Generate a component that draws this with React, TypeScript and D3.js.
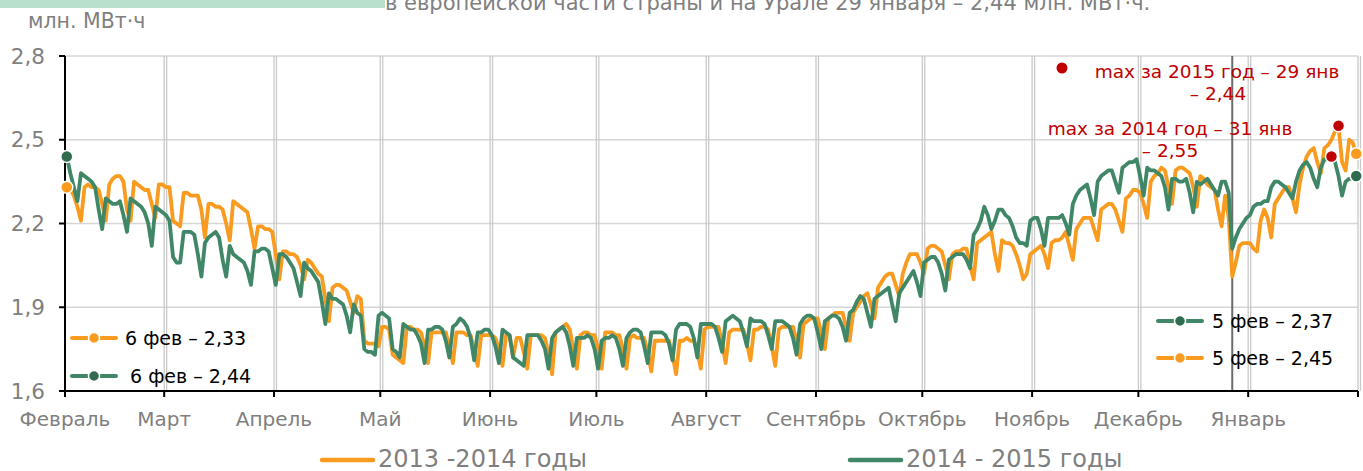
import { scaleLinear, line } from "d3";

// daily consumption, from 6 Feb to 5 Feb of the next year (365 days)
const SERIES_2013_2014 = [
  2.33, 2.32, 2.30, 2.26, 2.21,
  2.33, 2.34, 2.33, 2.33, 2.32, 2.27, 2.21,
  2.34, 2.36, 2.37, 2.37, 2.35, 2.25, 2.21,
  2.35, 2.34, 2.33, 2.32, 2.32, 2.27, 2.22,
  2.34, 2.34, 2.33, 2.33, 2.21, 2.20, 2.19,
  2.31, 2.31, 2.30, 2.30, 2.30, 2.25, 2.15,
  2.27, 2.27, 2.26, 2.26, 2.25, 2.20, 2.14,
  2.28, 2.27, 2.26, 2.25, 2.24, 2.18, 2.11,
  2.19, 2.19, 2.18, 2.18, 2.17, 2.09, 2.00,
  2.10, 2.10, 2.09, 2.09, 2.08, 2.05, 2.00,
  2.07, 2.06, 2.04, 2.02, 2.01, 1.93, 1.85,
  1.97, 1.98, 1.98, 1.97, 1.96, 1.92, 1.88,
  1.94, 1.93, 1.78, 1.77, 1.77, 1.77, 1.76,
  1.83, 1.83, 1.82, 1.73, 1.72, 1.71, 1.70,
  1.83, 1.83, 1.82, 1.82, 1.81, 1.76, 1.70,
  1.81, 1.81, 1.81, 1.81, 1.81, 1.76, 1.70,
  1.81, 1.81, 1.81, 1.80, 1.80, 1.75, 1.69,
  1.80, 1.80, 1.80, 1.80, 1.79, 1.75, 1.69,
  1.80, 1.80, 1.72, 1.79, 1.79, 1.74, 1.68,
  1.80, 1.80, 1.80, 1.80, 1.79, 1.73, 1.66,
  1.81, 1.82, 1.83, 1.84, 1.82, 1.75, 1.68,
  1.80, 1.81, 1.81, 1.80, 1.80, 1.75, 1.68,
  1.81, 1.81, 1.81, 1.80, 1.80, 1.75, 1.68,
  1.79, 1.80, 1.79, 1.79, 1.79, 1.74, 1.67,
  1.78, 1.78, 1.78, 1.78, 1.78, 1.73, 1.66,
  1.78, 1.78, 1.79, 1.78, 1.78, 1.74, 1.68,
  1.82, 1.83, 1.83, 1.83, 1.83, 1.77, 1.70,
  1.81, 1.82, 1.82, 1.82, 1.82, 1.77, 1.71,
  1.82, 1.82, 1.83, 1.83, 1.82, 1.76, 1.69,
  1.82, 1.83, 1.83, 1.83, 1.83, 1.78, 1.72,
  1.84, 1.85, 1.86, 1.86, 1.86, 1.81, 1.75,
  1.86, 1.87, 1.88, 1.88, 1.88, 1.83, 1.78,
  1.88, 1.90, 1.92, 1.94, 1.95, 1.91, 1.86,
  1.97, 1.99, 2.01, 2.02, 2.02, 1.98, 1.94,
  2.02, 2.06, 2.09, 2.09, 2.09, 2.06, 2.02,
  2.11, 2.12, 2.12, 2.11, 2.10, 2.05, 2.00,
  2.09, 2.10, 2.10, 2.11, 2.11, 2.05, 2.00,
  2.13, 2.14, 2.15, 2.16, 2.17, 2.09, 2.03,
  2.14, 2.13, 2.13, 2.12, 2.09, 2.05, 2.00,
  2.02, 2.09, 2.10, 2.11, 2.12, 2.09, 2.04,
  2.13, 2.14, 2.14, 2.15, 2.17, 2.12, 2.07,
  2.18, 2.20, 2.22, 2.22, 2.22, 2.18, 2.14,
  2.25, 2.26, 2.27, 2.27, 2.25, 2.21, 2.17,
  2.29, 2.30, 2.32, 2.32, 2.31, 2.27, 2.22,
  2.35, 2.37, 2.38, 2.40, 2.39, 2.33, 2.27,
  2.39, 2.40, 2.40, 2.39, 2.38, 2.33, 2.26,
  2.37, 2.36, 2.34, 2.33, 2.32, 2.25, 2.19,
  2.30, 2.22,
  2.01, 2.06, 2.12, 2.13, 2.13, 2.13, 2.11, 2.10, 2.21, 2.25, 2.22, 2.15,
  2.27, 2.29, 2.31, 2.33, 2.33, 2.29, 2.24,
  2.34, 2.40, 2.44, 2.46, 2.47, 2.42, 2.38,
  2.47, 2.48, 2.50, 2.53, 2.55, 2.42, 2.39,
  2.50, 2.49, 2.45,
];

const SERIES_2014_2015 = [
  2.44, 2.38, 2.33, 2.28,
  2.38, 2.37, 2.36, 2.35, 2.33, 2.25, 2.18,
  2.29, 2.28, 2.27, 2.27, 2.28, 2.23, 2.17,
  2.29, 2.28, 2.27, 2.26, 2.24, 2.20, 2.12,
  2.26, 2.25, 2.24, 2.23, 2.21, 2.08, 2.06,
  2.06, 2.17, 2.17, 2.17, 2.16, 2.09, 2.01,
  2.13, 2.15, 2.16, 2.17, 2.15, 2.07, 2.01,
  2.12, 2.09, 2.08, 2.07, 2.06, 2.03, 1.98,
  2.10, 2.10, 2.11, 2.11, 2.10, 2.04, 1.98,
  2.09, 2.09, 2.08, 2.06, 2.04, 1.99, 1.94,
  2.06, 2.04, 2.03, 2.01, 1.99, 1.92, 1.84,
  1.95, 1.93, 1.93, 1.92, 1.91, 1.87, 1.81,
  1.91, 1.88, 1.87, 1.75, 1.74, 1.74, 1.73,
  1.87, 1.88, 1.87, 1.86, 1.75, 1.74, 1.72,
  1.84, 1.83, 1.82, 1.82, 1.80, 1.77, 1.70,
  1.82, 1.82, 1.83, 1.83, 1.82, 1.78, 1.72,
  1.83, 1.84, 1.86, 1.85, 1.83, 1.79, 1.71,
  1.81, 1.81, 1.82, 1.82, 1.80, 1.76, 1.70,
  1.82, 1.81, 1.80, 1.72, 1.71, 1.70, 1.69,
  1.80, 1.80, 1.80, 1.80, 1.78, 1.75, 1.68,
  1.79, 1.81, 1.82, 1.83, 1.81, 1.76, 1.69,
  1.79, 1.79, 1.79, 1.80, 1.79, 1.75, 1.68,
  1.78, 1.79, 1.79, 1.80, 1.79, 1.75, 1.69,
  1.79, 1.81, 1.82, 1.82, 1.81, 1.76, 1.70,
  1.81, 1.81, 1.81, 1.81, 1.80, 1.77, 1.71,
  1.82, 1.84, 1.84, 1.84, 1.83, 1.79, 1.72,
  1.84, 1.84, 1.84, 1.84, 1.83, 1.79, 1.74,
  1.85, 1.86, 1.87, 1.86, 1.85, 1.81, 1.76,
  1.86, 1.85, 1.85, 1.85, 1.84, 1.80, 1.75,
  1.85, 1.85, 1.85, 1.84, 1.83, 1.79, 1.73,
  1.84, 1.86, 1.87, 1.87, 1.86, 1.81, 1.75,
  1.85, 1.86, 1.87, 1.87, 1.86, 1.83, 1.78,
  1.88, 1.89, 1.92, 1.94, 1.93, 1.88, 1.83,
  1.93, 1.94, 1.95, 1.96, 1.97, 1.91, 1.85,
  1.95, 1.97, 1.99, 2.01, 2.03, 1.99, 1.94,
  2.06, 2.07, 2.08, 2.08, 2.06, 2.02, 1.96,
  2.07, 2.08, 2.09, 2.09, 2.09, 2.07, 2.04,
  2.16, 2.18, 2.21, 2.26, 2.23, 2.18, 2.21,
  2.25, 2.25, 2.23, 2.22, 2.19, 2.15, 2.13,
  2.13, 2.12, 2.21, 2.22, 2.22, 2.18, 2.12,
  2.22, 2.22, 2.22, 2.22, 2.23, 2.20, 2.16,
  2.27, 2.30, 2.32, 2.33, 2.34, 2.29, 2.23,
  2.35, 2.37, 2.38, 2.39, 2.39, 2.35, 2.31,
  2.40, 2.41, 2.42, 2.42, 2.43, 2.37, 2.30,
  2.40, 2.39, 2.39, 2.38, 2.37, 2.33, 2.25,
  2.36, 2.36, 2.35, 2.35, 2.36, 2.31, 2.24,
  2.35, 2.34, 2.35, 2.36, 2.34, 2.32, 2.30,
  2.35, 2.35, 2.31,
  2.11, 2.15, 2.18, 2.20, 2.22, 2.23, 2.26, 2.27, 2.27, 2.28, 2.28,
  2.33, 2.35, 2.35, 2.34, 2.33, 2.31, 2.29,
  2.35, 2.39, 2.41, 2.42, 2.40, 2.36, 2.33,
  2.40, 2.43, 2.43, 2.44, 2.42, 2.37, 2.30,
  2.35, 2.36, 2.36, 2.37,
];

const MONTH_LABELS = [
  "Февраль", "Март", "Апрель", "Май", "Июнь", "Июль",
  "Август", "Сентябрь", "Октябрь", "Ноябрь", "Декабрь", "Январь", "",
];
const MONTH_START_DAYS = [0, 28, 59, 89, 120, 150, 181, 212, 242, 273, 303, 334, 365];
const Y_TICKS = [1.6, 1.9, 2.2, 2.5, 2.8];
const NEW_YEAR_DAY = 329;
const MAX_2014_DAY = 359; // 31 янв 2014
const MAX_2015_DAY = 357; // 29 янв 2015

const W = 1363;
const H = 471;
const PLOT = { left: 65, right: 1358, top: 56, bottom: 391 };

const ORANGE = "#f89b1f";
const GREEN = "#3f8766";
const GREEN_DOT = "#2f6c4f";
const RED = "#c00000";
const GRAY = "#7f7f7f";
const GRID = "#d6d6d6";
const FONT = "'DejaVu Sans', Verdana, sans-serif";

const fmt = (v: number) => v.toFixed(1).replace(".", ",");

function LegendMark({ x, y, color, dot }: { x: number; y: number; color: string; dot: string }) {
  return (
    <g>
      <line x1={x} x2={x + 44} y1={y} y2={y} stroke={color} strokeWidth={4} strokeLinecap="round" />
      <circle cx={x + 22} cy={y} r={5.5} fill={dot} stroke="#fff" strokeWidth={1.5} />
    </g>
  );
}

export default function App() {
  const x = scaleLinear().domain([0, 365]).range([PLOT.left, PLOT.right]);
  const y = scaleLinear().domain([1.6, 2.8]).range([PLOT.bottom, PLOT.top]);
  const path = line<number>()
    .x((_, i) => x(i + 0.5))
    .y((d) => y(d));

  const last = SERIES_2013_2014.length - 1;

  return (
    <div style={{ position: "absolute", left: 0, top: 0 }}>
      <svg width={W} height={H} style={{ display: "block", fontFamily: FONT }}>
        <rect x={0} y={0} width={W} height={H} fill="#fff" />
        <rect x={0} y={0} width={385} height={8} fill="#b9e0cc" />
        <text x={385} y={10} fontSize={21} fill={GRAY}>
          в европейской части страны и на Урале 29 января – 2,44 млн. МВт·ч.
        </text>
        <text x={28} y={28} fontSize={20.5} fill={GRAY}>
          млн. МВт·ч
        </text>

        {/* grid */}
        {Y_TICKS.slice(1).map((t) => (
          <line key={t} x1={PLOT.left} x2={PLOT.right} y1={y(t)} y2={y(t)} stroke={GRID} strokeWidth={1.5} />
        ))}
        {MONTH_START_DAYS.slice(1).map((d) => (
          <g key={d}>
            <line x1={x(d)} x2={x(d)} y1={PLOT.top} y2={PLOT.bottom} stroke="#cacaca" strokeWidth={1.3} />
            <line x1={x(d + 0.7)} x2={x(d + 0.7)} y1={PLOT.top} y2={PLOT.bottom} stroke="#cacaca" strokeWidth={1.3} />
          </g>
        ))}
        <line
          x1={x(NEW_YEAR_DAY + 0.5)}
          x2={x(NEW_YEAR_DAY + 0.5)}
          y1={PLOT.top}
          y2={PLOT.bottom}
          stroke="#6b6b6b"
          strokeWidth={2}
        />

        {/* axes */}
        <line x1={PLOT.left} x2={PLOT.left} y1={PLOT.top} y2={PLOT.bottom} stroke="#000" strokeWidth={2} />
        <line x1={PLOT.left} x2={PLOT.right} y1={PLOT.bottom} y2={PLOT.bottom} stroke="#000" strokeWidth={2} />
        {Y_TICKS.map((t) => (
          <g key={t}>
            <line x1={PLOT.left - 6} x2={PLOT.left} y1={y(t)} y2={y(t)} stroke="#000" strokeWidth={2} />
            <text x={45} y={y(t) + 7.5} fontSize={21.5} fill={GRAY} textAnchor="end">
              {fmt(t)}
            </text>
          </g>
        ))}
        {MONTH_START_DAYS.map((d, i) => (
          <g key={d}>
            <line x1={x(d)} x2={x(d)} y1={PLOT.bottom} y2={PLOT.bottom + 6} stroke="#000" strokeWidth={2} />
            <text x={x(d)} y={426} fontSize={20} fill={GRAY} textAnchor="middle">
              {MONTH_LABELS[i]}
            </text>
          </g>
        ))}

        {/* series */}
        <path d={path(SERIES_2013_2014) ?? ""} fill="none" stroke={ORANGE} strokeWidth={3.8} strokeLinejoin="round" />
        <path d={path(SERIES_2014_2015) ?? ""} fill="none" stroke={GREEN} strokeWidth={3.8} strokeLinejoin="round" />

        {/* end points */}
        <circle cx={x(0.5)} cy={y(SERIES_2014_2015[0])} r={6} fill={GREEN_DOT} stroke="#fff" strokeWidth={1.5} />
        <circle cx={x(0.5)} cy={y(SERIES_2013_2014[0])} r={6} fill={ORANGE} stroke="#fff" strokeWidth={1.5} />
        <circle cx={x(last + 0.5)} cy={y(SERIES_2014_2015[last])} r={6} fill={GREEN_DOT} stroke="#fff" strokeWidth={1.5} />
        <circle cx={x(last + 0.5)} cy={y(SERIES_2013_2014[last])} r={6} fill={ORANGE} stroke="#fff" strokeWidth={1.5} />
        <circle cx={x(MAX_2014_DAY + 0.5)} cy={y(SERIES_2013_2014[MAX_2014_DAY])} r={6} fill={RED} stroke="#fff" strokeWidth={1.5} />
        <circle cx={x(MAX_2015_DAY + 0.5)} cy={y(SERIES_2014_2015[MAX_2015_DAY])} r={6} fill={RED} stroke="#fff" strokeWidth={1.5} />

        {/* annotations */}
        <circle cx={1062} cy={68} r={5.5} fill={RED} />
        <g fontSize={18.5} fill={RED} textAnchor="middle">
          <text x={1217} y={78}>max за 2015 год – 29 янв</text>
          <text x={1218} y={100}>– 2,44</text>
          <text x={1170} y={135}>max за 2014 год – 31 янв</text>
          <text x={1170} y={157}>– 2,55</text>
        </g>

        {/* in-plot legends */}
        <LegendMark x={72} y={338} color={ORANGE} dot={ORANGE} />
        <text x={125} y={345} fontSize={19} fill="#000">6 фев – 2,33</text>
        <LegendMark x={72} y={376} color={GREEN} dot={GREEN_DOT} />
        <text x={130} y={383} fontSize={19} fill="#000">6 фев – 2,44</text>
        <LegendMark x={1158} y={321} color={GREEN} dot={GREEN_DOT} />
        <text x={1212} y={328} fontSize={19} fill="#000">5 фев – 2,37</text>
        <LegendMark x={1158} y={358} color={ORANGE} dot={ORANGE} />
        <text x={1212} y={365} fontSize={19} fill="#000">5 фев – 2,45</text>

        {/* bottom legend */}
        <line x1={322} x2={373} y1={460} y2={460} stroke={ORANGE} strokeWidth={4.5} strokeLinecap="round" />
        <text x={378} y={467} fontSize={24} fill={GRAY}>2013 -2014 годы</text>
        <line x1={850} x2={901} y1={460} y2={460} stroke={GREEN} strokeWidth={4.5} strokeLinecap="round" />
        <text x={906} y={467} fontSize={24} fill={GRAY}>2014 - 2015 годы</text>
      </svg>
    </div>
  );
}
